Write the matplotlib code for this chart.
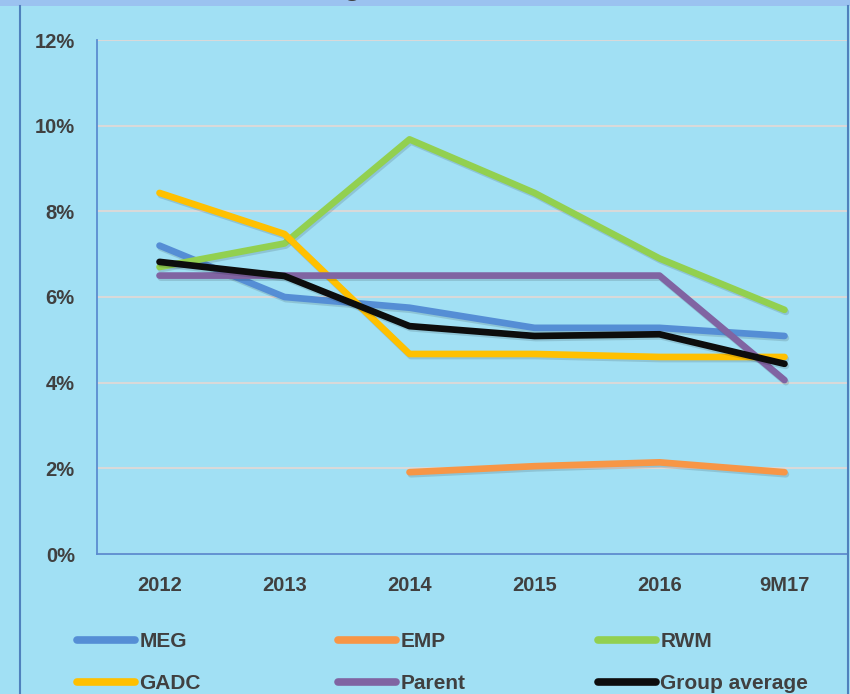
import numpy as np
import matplotlib
matplotlib.use("Agg")
import matplotlib.pyplot as plt
import matplotlib.patheffects as pe
from matplotlib.lines import Line2D

plt.rcParams['font.family'] = ['Liberation Sans', 'DejaVu Sans']
plt.rcParams['font.weight'] = 'bold'

# data (percent)
periods = ['2012', '2013', '2014', '2015', '2016', '9M17']
meg = [7.2, 6.0, 5.75, 5.28, 5.28, 5.09]
emp = [np.nan, np.nan, 1.91, 2.05, 2.14, 1.91]
rwm = [6.7, 7.25, 9.68, 8.43, 6.9, 5.7]
gadc = [8.43, 7.47, 4.67, 4.67, 4.6, 4.6]
parent = [6.5, 6.5, 6.5, 6.5, 6.5, 4.06]
group_avg = [6.82, 6.49, 5.32, 5.09, 5.13, 4.44]

series = [
    ('MEG', meg, '#558ED5'),
    ('EMP', emp, '#F79646'),
    ('RWM', rwm, '#92D050'),
    ('GADC', gadc, '#FFC000'),
    ('Parent', parent, '#8064A2'),
    ('Group average', group_avg, '#0D0D0D'),
]

bg = '#A1E0F4'
txt = '#404040'
edge = '#4F81BD'

fig = plt.figure(figsize=(8.5, 6.94), dpi=100)
fig.patch.set_facecolor(bg)

# top band and side borders of the slide frame
fig.add_artist(plt.Rectangle((0, 1 - 6 / 694), 1, 6 / 694, transform=fig.transFigure,
                             facecolor='#9BC2F0', edgecolor='none'))
fig.add_artist(Line2D([20 / 850, 20 / 850], [0, 1 - 6 / 694], transform=fig.transFigure,
                      color=edge, lw=1.5))
fig.add_artist(Line2D([848 / 850, 848 / 850], [0, 1 - 6 / 694], transform=fig.transFigure,
                      color=edge, lw=1.5))
# bottom of the clipped title
fig.text(352 / 850, 1 + 5 / 694, 'g', fontsize=20, color=txt, va='baseline', ha='center')

ax = fig.add_axes([97 / 850, 1 - 554 / 694, 750 / 850, 514 / 694])
ax.set_facecolor(bg)

x = np.arange(len(periods))
shadow = [pe.SimpleLineShadow(offset=(1, -1.5), shadow_color='#000000', alpha=0.12),
          pe.Normal()]
handles = {}
for name, vals, col in series:
    ln, = ax.plot(x, vals, color=col, lw=4.8, solid_capstyle='round',
                  solid_joinstyle='round', label=name, path_effects=shadow, zorder=3)
    handles[name] = ln

ax.set_xlim(-0.5, len(periods) - 0.5)
ax.set_ylim(0, 12)
ax.set_yticks(np.arange(0, 13, 2))
ax.set_yticklabels([f'{v}%' for v in range(0, 13, 2)])
ax.set_xticks(x)
ax.set_xticklabels(periods)
ax.tick_params(length=0, labelsize=14.5, colors=txt)
ax.tick_params(axis='x', pad=16)
ax.tick_params(axis='y', pad=16)
ax.grid(axis='y', color='#D9D9D9', lw=1.5, zorder=0)
for s in ['top', 'right']:
    ax.spines[s].set_visible(False)
for s in ['left', 'bottom']:
    ax.spines[s].set_color('#5B8CD0')
    ax.spines[s].set_linewidth(1.3)

# legend: three columns, two rows
columns = [['MEG', 'GADC'], ['EMP', 'Parent'], ['RWM', 'Group average']]
col_x = [77, 338, 598]
for names, cx in zip(columns, col_x):
    leg = fig.legend([handles[n] for n in names], names, loc='upper left',
                     bbox_to_anchor=(cx / 850, 1 - 632 / 694), frameon=False,
                     borderpad=0, borderaxespad=0,
                     handlelength=2.8, handletextpad=0.2,
                     labelspacing=1.1, prop={'size': 15, 'weight': 'bold'})
    for t in leg.get_texts():
        t.set_color(txt)
    for h in leg.legend_handles:
        h.set_path_effects([])
        h.set_linewidth(5.5)

fig.savefig('out.png', dpi=100, facecolor=bg)
